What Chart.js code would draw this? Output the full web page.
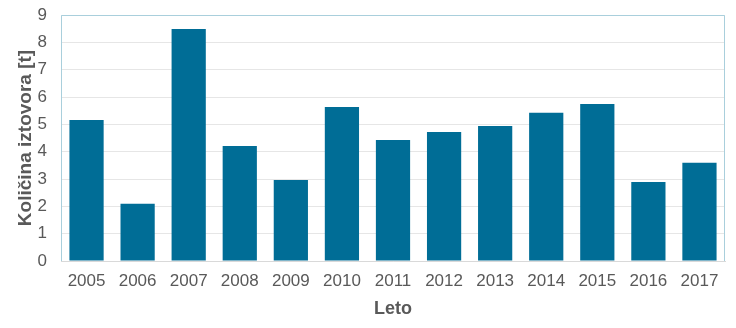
<!DOCTYPE html>
<html>
<head>
<meta charset="utf-8">
<script src="https://cdn.jsdelivr.net/npm/chart.js@4.4.0/dist/chart.umd.min.js"></script>
<style>
  html, body { margin: 0; padding: 0; background: #fff; }
  #wrap { width: 736px; height: 328px; }
</style>
</head>
<body>
<div id="wrap"><canvas id="chart" width="736" height="328"></canvas></div>
<script>
const years = ['2005', '2006', '2007', '2008', '2009', '2010', '2011', '2012', '2013', '2014', '2015', '2016', '2017'];
const amounts = [5.16, 2.09, 8.49, 4.21, 2.96, 5.63, 4.43, 4.72, 4.94, 5.42, 5.74, 2.89, 3.59];
const yTitle = 'Količina iztovora [t]';
const xTitle = 'Leto';

// light blue frame around the plot area
const frame = {
    id: 'frame',
    afterDraw(chart) {
        const { ctx, chartArea: a } = chart;
        ctx.save();
        ctx.strokeStyle = '#a9cfdc';
        ctx.lineWidth = 1;
        ctx.beginPath();
        ctx.moveTo(a.left + 0.5, a.bottom);
        ctx.lineTo(a.left + 0.5, a.top + 0.5);
        ctx.lineTo(a.right - 0.5, a.top + 0.5);
        ctx.lineTo(a.right - 0.5, a.bottom);
        ctx.stroke();
        ctx.restore();
    }
};

const family = '"Liberation Sans", Arial, sans-serif';
const tickFont = { family: family, size: 17 };

new Chart(document.getElementById('chart'), {
    type: 'bar',
    data: {
        labels: years,
        datasets: [{
            data: amounts,
            backgroundColor: '#006d96',
            barPercentage: 0.67,
            categoryPercentage: 1
        }]
    },
    options: {
        responsive: false,
        animation: false,
        layout: { padding: { left: 14, right: 11, top: 15, bottom: 0 } },
        plugins: { legend: { display: false }, tooltip: { enabled: false } },
        scales: {
            x: {
                grid: { display: false, drawTicks: false },
                border: { color: '#d9d9d9' },
                ticks: { color: '#595959', font: tickFont, padding: 10, maxRotation: 0 },
                title: { display: true, text: xTitle, color: '#595959', font: { family: family, size: 18, weight: 'bold' }, padding: { top: 0, bottom: 8 } },
                afterFit(scale) {
                    scale.height = 67;
                    scale.paddingLeft = 0;
                    scale.paddingRight = 0;
                }
            },
            y: {
                min: 0,
                max: 9,
                grid: { color: '#e6e6e6', drawTicks: false },
                border: { display: false },
                ticks: { stepSize: 1, color: '#595959', font: tickFont, padding: 14 },
                title: { display: true, text: yTitle, color: '#595959', font: { family: family, size: 19, weight: 'bold' }, padding: 0 },
                afterFit(scale) {
                    scale.width = 47;
                    scale.paddingTop = 0;
                    scale.paddingBottom = 0;
                }
            }
        }
    },
    plugins: [frame]
});
</script>
</body>
</html>
